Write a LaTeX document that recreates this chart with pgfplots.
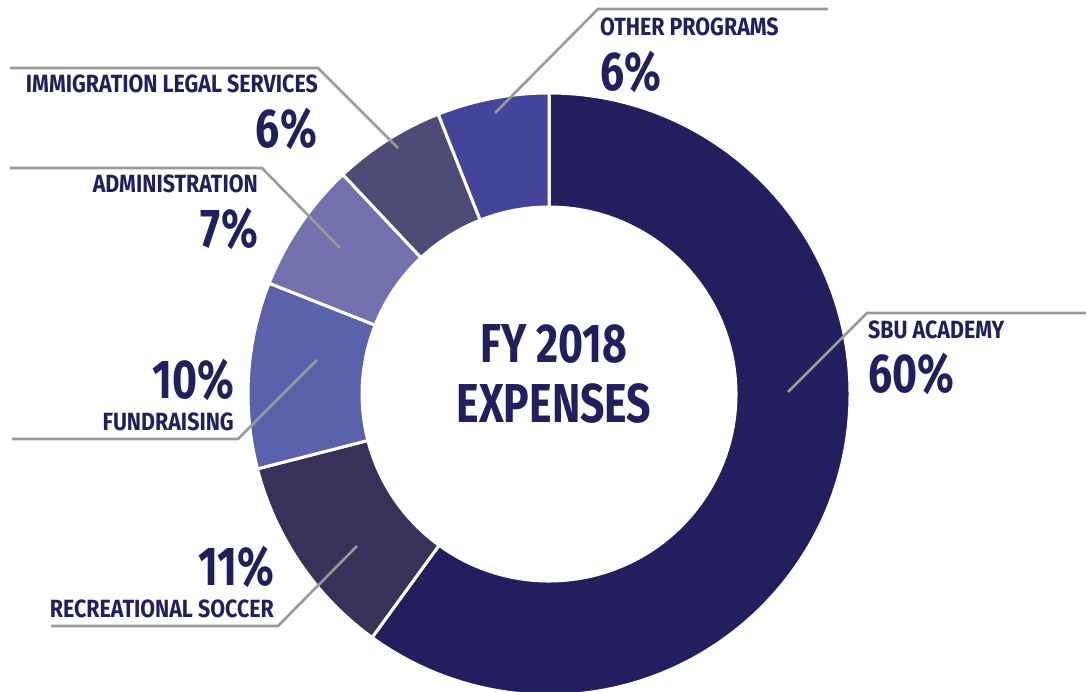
\documentclass[border=0pt]{standalone}
\usepackage{pgfplots}
\pgfplotsset{compat=1.18}
\usepackage{pgfplotstable}
\usetikzlibrary{calc}
\usepackage{fontspec}
\newfontfamily\dinfont[FakeStretch=0.78]{Fira Sans}
\newfontfamily\labfont[FakeStretch=0.86]{Fira Sans}
\definecolor{sbu}{HTML}{231F5E}
\definecolor{rec}{HTML}{38325A}
\definecolor{fund}{HTML}{5A62AB}
\definecolor{admin}{HTML}{7370AE}
\definecolor{immig}{HTML}{4E4C76}
\definecolor{other}{HTML}{44449A}
\definecolor{txt}{HTML}{221F5E}
\definecolor{lead}{HTML}{9A9A9A}
\tikzset{
  lab/.style={font=\labfont\bfseries\fontsize{25}{26}\selectfont, text=txt, inner sep=0pt},
  pct/.style={font=\dinfont\bfseries\fontsize{55}{56}\selectfont, text=txt, inner sep=0pt},
}

\pgfplotstableread{
share colour
60 sbu
11 rec
10 fund
7 admin
6 immig
6 other
}\expenses

\begin{document}
\begin{tikzpicture}
\begin{axis}[
  scale only axis, width=1086bp, height=692bp,
  xmin=0, xmax=1086, ymin=0, ymax=692, y dir=reverse,
  hide axis, clip=false,
]
\def\cum{0}
\pgfplotsforeachungrouped \i in {0,...,5}{%
  \pgfplotstablegetelem{\i}{share}\of\expenses \let\v\pgfplotsretval
  \pgfplotstablegetelem{\i}{colour}\of\expenses \let\c\pgfplotsretval
  \pgfmathsetmacro\a{90-3.6*\cum}%
  \pgfmathsetmacro\b{90-3.6*(\cum+\v)}%
  \pgfmathsetmacro\cum{\cum+\v}%
  \edef\temp{\noexpand\fill[\c, draw=white, line width=3bp]
    ($(axis cs:549,394)+(\a:301bp)$) arc[start angle=\a, end angle=\b, radius=301bp]
    -- ($(axis cs:549,394)+(\b:187bp)$) arc[start angle=\b, end angle=\a, radius=187bp] -- cycle;}%
  \temp
}
% leader lines
\draw[lead, line width=2.6bp] (axis cs:495,113) -- (axis cs:598,9) -- (axis cs:828,9);
\draw[lead, line width=2.6bp] (axis cs:398,148) -- (axis cs:318,68) -- (axis cs:10,68);
\draw[lead, line width=2.6bp] (axis cs:340,248) -- (axis cs:262,168) -- (axis cs:10,168);
\draw[lead, line width=2.6bp] (axis cs:788,392) -- (axis cs:867,313) -- (axis cs:1086,313);
\draw[lead, line width=2.6bp] (axis cs:317,360) -- (axis cs:238,439) -- (axis cs:12,439);
\draw[lead, line width=2.6bp] (axis cs:357,546) -- (axis cs:278,626) -- (axis cs:51,626);
% labels
\node[lab, anchor=base west] at (axis cs:600,36) {OTHER PROGRAMS};
\node[pct, anchor=base west] at (axis cs:600,91) {6\%};
\node[lab, anchor=base east] at (axis cs:318,93) {IMMIGRATION LEGAL SERVICES};
\node[pct, anchor=base east] at (axis cs:317,148) {6\%};
\node[lab, anchor=base east] at (axis cs:258,193) {ADMINISTRATION};
\node[pct, anchor=base east] at (axis cs:258,247) {7\%};
\node[lab, anchor=base west] at (axis cs:868,338) {SBU ACADEMY};
\node[pct, anchor=base west] at (axis cs:868,392) {60\%};
\node[pct, anchor=base east] at (axis cs:234,398) {10\%};
\node[lab, anchor=base east] at (axis cs:234,430) {FUNDRAISING};
\node[pct, anchor=base east] at (axis cs:274,585) {11\%};
\node[lab, anchor=base east] at (axis cs:274,617) {RECREATIONAL SOCCER};
\node[pct, anchor=base, font=\dinfont\bfseries\fontsize{55}{56}\selectfont] at (axis cs:554,362) {FY 2018};
\node[pct, anchor=base, font=\dinfont\bfseries\fontsize{55}{56}\selectfont] at (axis cs:554,422) {EXPENSES};
\end{axis}
\pgfresetboundingbox
\path (current axis.south west) rectangle (current axis.north east);
\end{tikzpicture}
\end{document}
